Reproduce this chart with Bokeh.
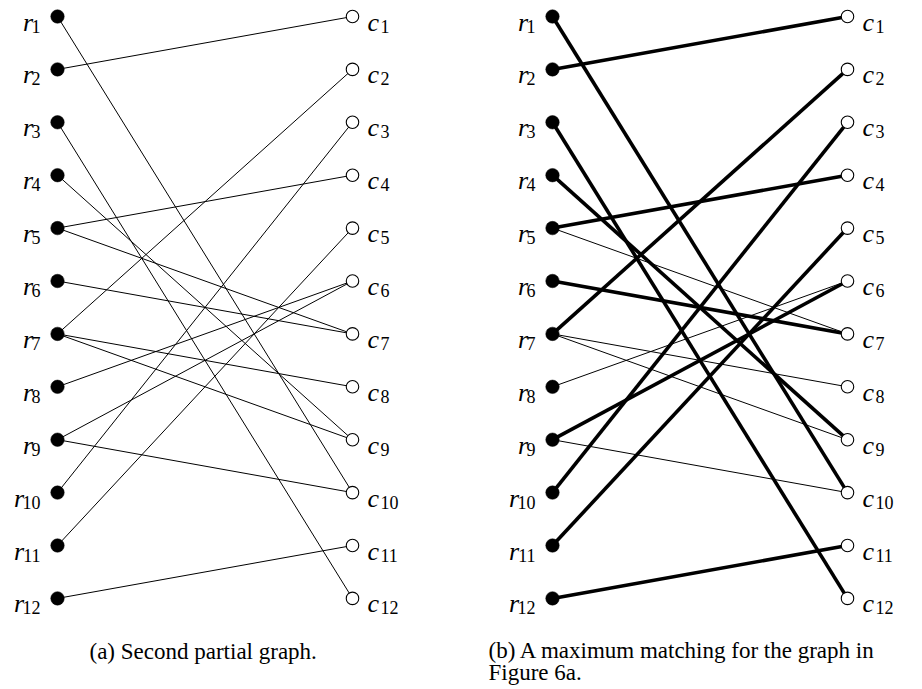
from bokeh.plotting import figure
from bokeh.models import Range1d, ColumnDataSource
from bokeh.core.properties import value
from bokeh.embed import file_html
from bokeh.resources import INLINE

# ---- data ----
row_ids = list(range(1, 13))          # r_1 .. r_12
col_ids = list(range(1, 13))          # c_1 .. c_12
edge_rows = [1, 2, 3, 4, 5, 5, 6, 7, 7, 7, 8, 9, 9, 10, 11, 12]
edge_cols = [10, 1, 12, 9, 4, 7, 7, 2, 8, 9, 6, 6, 10, 3, 5, 11]
in_matching = [1, 1, 1, 1, 1, 0, 1, 1, 0, 0, 0, 1, 0, 1, 1, 1]
caption_a = "(a) Second partial graph."
caption_b1 = "(b) A maximum matching for the graph in"
caption_b2 = "Figure 6a."

# ---- layout ----
W, H = 922, 689
TOP, GAP = 16, 52.9
RX, CX = 57, 352
PANEL_DX = 495
SERIF = value("Liberation Serif")

p = figure(width=W, height=H, output_backend="svg", toolbar_location=None,
           x_range=Range1d(0, W), y_range=Range1d(H, 0),
           min_border=0, outline_line_color=None)
p.axis.visible = False
p.grid.visible = False
p.background_fill_color = "white"


def ypos(i):
    return TOP + (i - 1) * GAP


for panel, dx in enumerate([0, PANEL_DX]):
    # edges
    for thick_pass in (False, True):
        xs, ys = [], []
        for r, c, m in zip(edge_rows, edge_cols, in_matching):
            thick = panel == 1 and m == 1
            if thick != thick_pass:
                continue
            xs.append([RX + dx, CX + dx])
            ys.append([ypos(r), ypos(c)])
        if xs:
            p.multi_line(xs, ys, line_color="black",
                         line_width=3.6 if thick_pass else 1.0)
    # nodes
    p.scatter([RX + dx] * len(row_ids), [ypos(i) for i in row_ids],
              size=13.5, fill_color="black", line_color="black", line_width=0.5)
    p.scatter([CX + dx] * len(col_ids), [ypos(i) for i in col_ids],
              size=12.5, fill_color="white", line_color="black", line_width=1.1)
    # row labels: italic r + subscript
    sub_right = 40 + dx
    rsrc = ColumnDataSource(dict(
        x=[sub_right - 9 * len(str(i)) + 1.5 for i in row_ids],
        y=[ypos(i) + 5.5 for i in row_ids],
        t=["r"] * len(row_ids)))
    p.text(x="x", y="y", text="t", source=rsrc, text_font=SERIF,
           text_font_style="italic", text_font_size="26px",
           text_align="right", text_baseline="alphabetic", text_color="black")
    p.text(x=[sub_right] * len(row_ids), y=[ypos(i) + 9.5 for i in row_ids],
           text=[str(i) for i in row_ids], text_font=SERIF,
           text_font_size="18px", text_align="right",
           text_baseline="alphabetic", text_color="black")
    # column labels
    p.text(x=[367 + dx] * len(col_ids), y=[ypos(i) + 5.5 for i in col_ids],
           text=["c"] * len(col_ids), text_font=SERIF,
           text_font_style="italic", text_font_size="26px",
           text_align="left", text_baseline="alphabetic", text_color="black")
    p.text(x=[380 + dx] * len(col_ids), y=[ypos(i) + 9.5 for i in col_ids],
           text=[str(i) for i in col_ids], text_font=SERIF,
           text_font_size="18px", text_align="left",
           text_baseline="alphabetic", text_color="black")

# captions
p.text(x=[89], y=[651], text=[caption_a], text_font=SERIF, text_font_size="23px",
       text_align="left", text_baseline="alphabetic", text_color="black")
p.text(x=[488], y=[650], text=[caption_b1], text_font=SERIF, text_font_size="23px",
       text_align="left", text_baseline="alphabetic", text_color="black")
p.text(x=[488], y=[672], text=[caption_b2], text_font=SERIF, text_font_size="23px",
       text_align="left", text_baseline="alphabetic", text_color="black")

open("out.html", "w").write(file_html(p, INLINE))
